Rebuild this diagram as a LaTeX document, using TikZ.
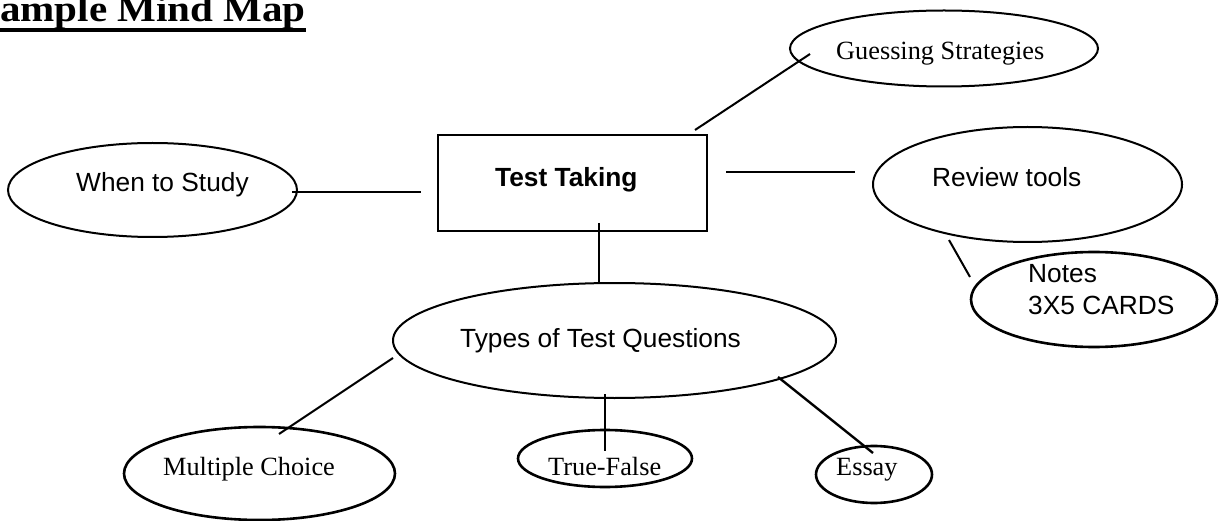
\documentclass[tikz,border=0pt]{standalone}
\usepackage{fontspec}
\setmainfont{Liberation Serif}
\newfontfamily\arialf{Liberation Sans}
\usetikzlibrary{shapes.geometric}
\begin{document}
\begin{tikzpicture}[x=1pt,y=-1pt,
  bub/.style={draw,ellipse,line width=2pt,inner sep=0pt},
  bubb/.style={draw,ellipse,line width=2.6pt,inner sep=0pt},
  conn/.style={line width=2pt},
  lbl/.style={anchor=base west,inner sep=0pt,font=\fontsize{26.3}{32}\selectfont},
  albl/.style={anchor=base west,inner sep=0pt,font=\arialf\fontsize{26.3}{32}\selectfont}]
\useasboundingbox (0,0) rectangle (1220,521);
% title
\node[anchor=base east,inner sep=0pt,font=\bfseries\fontsize{37}{40}\selectfont] (title) at (306,22) {\scalebox{1.11}[1]{ample Mind Map}};
\draw[line width=3.2pt] (0,30) -- (306,30);
% central box
\node[draw,line width=2pt,minimum width=269pt,minimum height=96pt,inner sep=0pt] (tt) at (572.5,183) {};
\node[albl,font=\arialf\bfseries\fontsize{26.3}{32}\selectfont] (ttl) at (495,187) {Test Taking};
% ellipses
\node[bub,minimum width=308pt,minimum height=76pt] (gs) at (944,48.5) {};
\node[lbl] (gsl) at (836,60) {Guessing Strategies};
\node[bub,minimum width=289pt,minimum height=94pt] (ws) at (152.5,190) {};
\node[albl] (wsl) at (76,192) {When to Study};
\node[bub,minimum width=309pt,minimum height=115pt] (rt) at (1027.5,184.5) {};
\node[albl] (rtl) at (932,187) {Review tools};
\node[bubb,minimum width=246pt,minimum height=95pt] (nt) at (1094,299.5) {};
\node[albl,align=left,anchor=north west] (ntl) at (1028,264) {Notes\\3X5 CARDS};
\node[bub,minimum width=443pt,minimum height=115pt] (tq) at (614.5,340.5) {};
\node[albl] (tql) at (460,347) {Types of Test Questions};
\node[bubb,minimum width=271pt,minimum height=93pt] (mc) at (259.5,473.5) {};
\node[lbl] (mcl) at (163,475) {Multiple Choice};
\node[bubb,minimum width=174pt,minimum height=57pt] (tf) at (605,458.5) {};
\node[lbl] (tfl) at (548,475) {True-False};
\node[bubb,minimum width=116pt,minimum height=57pt] (es) at (874,474.5) {};
\node[lbl] (esl) at (836,475) {Essay};
% connector ends
\coordinate (c1a) at (695,130); \coordinate (c1b) at (810,54);
\coordinate (c2a) at (292,192); \coordinate (c2b) at (421,192);
\coordinate (c3a) at (726,172); \coordinate (c3b) at (855,172);
\coordinate (c4a) at (949,240); \coordinate (c4b) at (970,277);
\coordinate (c5a) at (599,223); \coordinate (c5b) at (599,282);
\coordinate (c6a) at (393,358); \coordinate (c6b) at (279,434);
\coordinate (c7a) at (605,394); \coordinate (c7b) at (605,451);
\coordinate (c8a) at (778,377); \coordinate (c8b) at (873,453);
\draw[conn] (c1a) -- (c1b);
\draw[conn] (c2a) -- (c2b);
\draw[conn] (c3a) -- (c3b);
\draw[conn] (c4a) -- (c4b);
\draw[conn] (c5a) -- (c5b);
\draw[conn] (c6a) -- (c6b);
\draw[conn,line width=2.4pt] (c7a) -- (c7b);
\draw[conn,line width=2.4pt] (c8a) -- (c8b);
\end{tikzpicture}
\end{document}
